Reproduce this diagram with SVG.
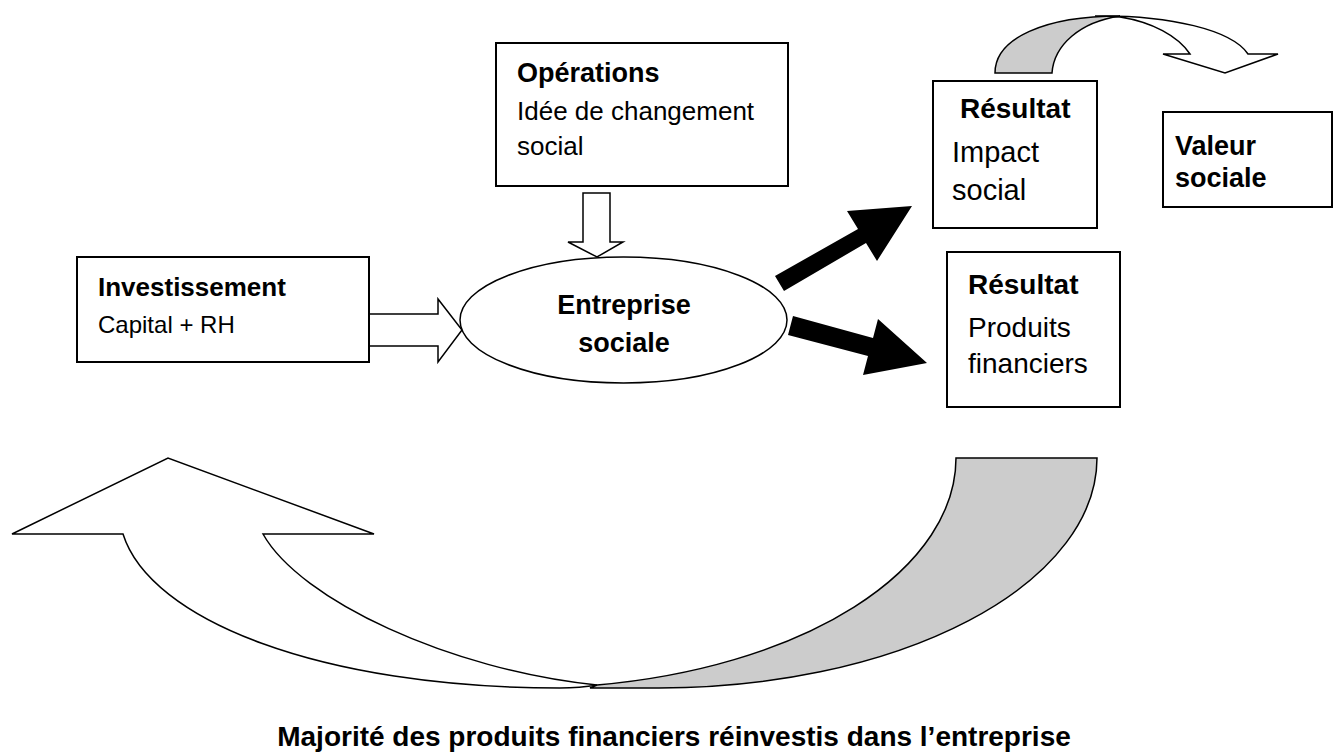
<svg xmlns="http://www.w3.org/2000/svg" width="1340" height="755" viewBox="0 0 1340 755">
<style>
.box{fill:#fff;stroke:#000;stroke-width:2}
.shape{fill:#fff;stroke:#000;stroke-width:1.5;stroke-linejoin:miter}
.gray{fill:#cccccc;stroke:#000;stroke-width:1.5}
.solid{fill:#000;stroke:none}
text{font-family:"Liberation Sans",Arial,sans-serif;fill:#000}
.b{font-weight:bold}
</style>
<rect width="1340" height="755" fill="#fff"/>
<g id="connectors">
  <path id="big-return-white" class="shape" d="M12,534 L168,458 L374,534 L263,534 C300,600 450,670 597,685 Q580,688 560,688 C320,688 150,620 123,534 Z"/>
  <path id="big-return-gray" class="gray" d="M956,458 L1097,458 A438,230 0 0 1 659,688 L590,688 L597,685 A427,230 0 0 0 956,458 Z"/>
  <path id="top-curve-white" class="shape" d="M1095,16 C1170,15 1232,30 1248,54 L1278,54 L1225,73 L1163,54 L1190,54 C1178,36 1152,22 1120,17 Z"/>
  <path id="top-curve-gray" class="gray" d="M995,73 C995,38 1045,16 1120,16 C1080,22 1054,45 1052,73 Z"/>
  <path id="arrow-invest" class="shape" d="M369,314 L438,314 L438,299 L462,330 L438,362 L438,346 L369,346 Z"/>
  <path id="arrow-ops" class="shape" d="M583,193 L610,193 L610,242 L623,242 L597,257 L568,242 L583,242 Z"/>
  <polygon id="arrow-impact" class="solid" points="775,276 858,229 847,211 912,206 877,261 866,243 784,291"/>
  <polygon id="arrow-produits" class="solid" points="793,316 873,338 878,319 927,363 863,375 868,356 788,335"/>
</g>
<g id="node-investissement">
  <rect class="box" x="77" y="257" width="292" height="105"/>
  <text class="b" x="98" y="296" font-size="26">Investissement</text>
  <text x="98" y="333" font-size="24">Capital + RH</text>
</g>
<g id="node-operations">
  <rect class="box" x="496" y="43" width="292" height="143"/>
  <text class="b" x="517" y="82" font-size="27">Opérations</text>
  <text x="517" y="120" font-size="26">Idée de changement</text>
  <text x="517" y="155" font-size="26">social</text>
</g>
<g id="node-entreprise">
  <ellipse class="shape" cx="623.5" cy="320" rx="163.5" ry="63"/>
  <text class="b" x="624" y="314" font-size="27" text-anchor="middle">Entreprise</text>
  <text class="b" x="624" y="352" font-size="27" text-anchor="middle">sociale</text>
</g>
<g id="node-impact">
  <rect class="box" x="933" y="81" width="164" height="147"/>
  <text class="b" x="960" y="118" font-size="28">Résultat</text>
  <text x="952" y="162" font-size="29">Impact</text>
  <text x="952" y="200" font-size="29">social</text>
</g>
<g id="node-valeur">
  <rect class="box" x="1163" y="112" width="169" height="95"/>
  <text class="b" x="1175" y="155" font-size="27">Valeur</text>
  <text class="b" x="1175" y="187" font-size="27">sociale</text>
</g>
<g id="node-produits">
  <rect class="box" x="947" y="252" width="173" height="155"/>
  <text class="b" x="968" y="294" font-size="28">Résultat</text>
  <text x="968" y="337" font-size="28">Produits</text>
  <text x="968" y="373" font-size="28">financiers</text>
</g>
<g id="caption">
  <text class="b" x="674" y="746" font-size="28" text-anchor="middle">Majorité des produits financiers réinvestis dans l’entreprise</text>
</g>
</svg>
